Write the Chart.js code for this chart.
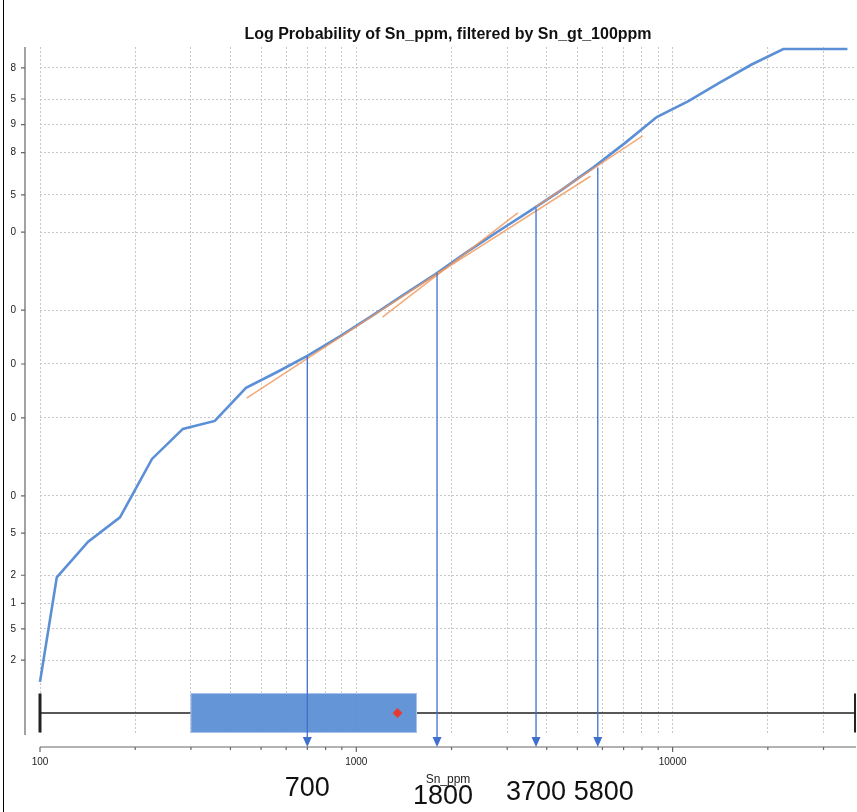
<!DOCTYPE html>
<html>
<head>
<meta charset="utf-8">
<script src="https://cdn.jsdelivr.net/npm/chart.js@4.4.1/dist/chart.umd.min.js"></script>
<style>
  html, body { margin: 0; padding: 0; background: #fff; }
  #frame { position: absolute; left: 3px; top: 0; width: 1px; height: 812px; background: #000; }
  #clip { position: absolute; left: 11px; top: 0; width: 846px; height: 812px; overflow: hidden; }
  #wrap { position: absolute; left: -11px; top: 0; width: 857px; height: 812px; }
</style>
</head>
<body>
<div id="frame"></div>
<div id="clip"><div id="wrap"><canvas id="chart" width="857" height="812"></canvas></div></div>
<script>
// cumulative curve, Sn_ppm vs cumulative percent
const snPpm = [100, 113, 142, 179, 226, 283, 357, 448, 562, 700, 890, 1120, 1410, 1780, 2240, 2820, 3550, 4470, 5620, 7080, 8910, 11220, 14130, 17780, 22390, 35700];
const cumPct = [0.1, 1.9, 4.2, 6.8, 17.8, 26.4, 29.0, 40.8, 46.9, 53.1, 60.7, 68.0, 74.9, 80.9, 86.2, 90.2, 93.2, 95.5, 97.2, 98.42, 99.18, 99.47, 99.69, 99.82, 99.89, 99.89];

// fitted population lines
const fitFrom = [450, 1210, 1800, 3700];
const fitTo = [1900, 3240, 5500, 8040];
const fitFromPct = [37.0, 67.6, 80.9, 93.7];
const fitToPct = [82.2, 92.9, 96.6, 98.67];

// thresholds picked off the curve
const thresholds = [700, 1800, 3700, 5800];
const thresholdPct = [53.1, 81.2, 93.5, 97.2];

// box plot stats
const boxLow = 100;
const boxQ1 = 300;
const boxQ3 = 1550;
const boxHigh = 38000;
const boxMean = 1350;

const yTickPct = [0.2, 0.5, 1, 2, 5, 10, 30, 50, 70, 90, 95, 98, 99, 99.5, 99.8];
const yMinPct = 0.0155;
const yMaxPct = 99.897;
const xMin = 100;
const xMax = 38000;

// inverse normal cdf (Acklam)
function probit(p) {
  const a = [-39.69683028665376, 220.9460984245205, -275.9285104469687, 138.3577518672690, -30.66479806614716, 2.506628277459239];
  const b = [-54.47609879822406, 161.5858368580409, -155.6989798598866, 66.80131188771972, -13.28068155288572];
  const c = [-0.007784894002430293, -0.3223964580411365, -2.400758277161838, -2.549732539343734, 4.374664141464968, 2.938163982698783];
  const d = [0.007784695709041462, 0.3224671290700398, 2.445134137142996, 3.754408661907416];
  const pl = 0.02425;
  if (p < pl) {
    const q = Math.sqrt(-2 * Math.log(p));
    return (((((c[0] * q + c[1]) * q + c[2]) * q + c[3]) * q + c[4]) * q + c[5]) / ((((d[0] * q + d[1]) * q + d[2]) * q + d[3]) * q + 1);
  }
  if (p > 1 - pl) {
    const q = Math.sqrt(-2 * Math.log(1 - p));
    return -(((((c[0] * q + c[1]) * q + c[2]) * q + c[3]) * q + c[4]) * q + c[5]) / ((((d[0] * q + d[1]) * q + d[2]) * q + d[3]) * q + 1);
  }
  const q = p - 0.5;
  const r = q * q;
  return (((((a[0] * r + a[1]) * r + a[2]) * r + a[3]) * r + a[4]) * r + a[5]) * q / (((((b[0] * r + b[1]) * r + b[2]) * r + b[3]) * r + b[4]) * r + 1);
}
const z = (pct) => probit(pct / 100);

function mantissa(v) {
  return v / Math.pow(10, Math.floor(Math.log10(v) + 1e-9));
}

Chart.defaults.font.family = "'Liberation Sans', Arial, sans-serif";

const BLUE = '#5b8fd6';
const ORANGE = 'rgba(240, 150, 90, 0.8)';
const ARROW = '#3f6fcf';

const offsetAxes = {
  id: 'offsetAxes',
  afterDraw(chart) {
    const { ctx, chartArea: a, scales: { x, y } } = chart;
    ctx.save();
    ctx.strokeStyle = '#666';
    ctx.lineWidth = 1.2;
    const sx = a.left - 15;
    ctx.beginPath();
    ctx.moveTo(sx, a.top);
    ctx.lineTo(sx, a.bottom);
    y.ticks.forEach((t) => {
      const py = y.getPixelForValue(t.value);
      ctx.moveTo(sx - 4, py);
      ctx.lineTo(sx, py);
    });
    ctx.stroke();
    const sy = a.bottom + 12;
    ctx.beginPath();
    ctx.moveTo(a.left, sy);
    ctx.lineTo(a.right, sy);
    x.ticks.forEach((t) => {
      const px = x.getPixelForValue(t.value);
      const major = Math.abs(mantissa(t.value) - 1) < 1e-6;
      ctx.moveTo(px, sy);
      ctx.lineTo(px, sy + (major ? 5 : 3));
    });
    ctx.stroke();
    ctx.restore();
  }
};

const boxPlot = {
  id: 'boxPlot',
  afterDatasetsDraw(chart) {
    const { ctx, chartArea: a, scales: { x } } = chart;
    const cy = a.bottom - 22;
    const h = 39;
    const px = (v) => x.getPixelForValue(v);
    ctx.save();
    ctx.strokeStyle = '#222';
    ctx.lineWidth = 1.5;
    ctx.beginPath();
    ctx.moveTo(px(boxLow), cy);
    ctx.lineTo(px(boxQ1), cy);
    ctx.moveTo(px(boxQ3), cy);
    ctx.lineTo(px(boxHigh), cy);
    ctx.stroke();
    ctx.lineWidth = 3;
    ctx.beginPath();
    ctx.moveTo(px(boxLow), cy - h / 2);
    ctx.lineTo(px(boxLow), cy + h / 2);
    ctx.stroke();
    ctx.lineWidth = 2;
    ctx.beginPath();
    ctx.moveTo(px(boxHigh) - 1, cy - h / 2);
    ctx.lineTo(px(boxHigh) - 1, cy + h / 2);
    ctx.stroke();
    ctx.fillStyle = 'rgba(88, 142, 212, 0.93)';
    ctx.fillRect(px(boxQ1), cy - h / 2, px(boxQ3) - px(boxQ1), h);
    ctx.strokeStyle = '#a9c4ea';
    ctx.lineWidth = 1;
    ctx.strokeRect(px(boxQ1), cy - h / 2, px(boxQ3) - px(boxQ1), h);
    const mx = px(boxMean);
    ctx.fillStyle = '#e53935';
    ctx.beginPath();
    ctx.moveTo(mx, cy - 5);
    ctx.lineTo(mx + 5, cy);
    ctx.lineTo(mx, cy + 5);
    ctx.lineTo(mx - 5, cy);
    ctx.closePath();
    ctx.fill();
    ctx.restore();
  }
};

const arrows = {
  id: 'arrows',
  afterDraw(chart) {
    const { ctx, chartArea: a, scales: { x, y } } = chart;
    const tip = a.bottom + 12;
    const labelDx = [0, 6, 0, 6];
    const labelY = [789, 797, 793, 793];
    ctx.save();
    thresholds.forEach((t, i) => {
      const px = x.getPixelForValue(t);
      const top = y.getPixelForValue(z(thresholdPct[i]));
      ctx.strokeStyle = ARROW;
      ctx.lineWidth = 1.3;
      ctx.beginPath();
      ctx.moveTo(px, top);
      ctx.lineTo(px, tip - 8);
      ctx.stroke();
      ctx.fillStyle = ARROW;
      ctx.beginPath();
      ctx.moveTo(px - 4.5, tip - 10);
      ctx.lineTo(px + 4.5, tip - 10);
      ctx.lineTo(px, tip);
      ctx.closePath();
      ctx.fill();
      ctx.fillStyle = '#111';
      ctx.font = "27px 'Liberation Sans Narrow', 'Liberation Sans', sans-serif";
      ctx.textAlign = 'center';
      ctx.textBaseline = 'middle';
      ctx.fillText(String(t), px + labelDx[i], labelY[i]);
    });
    ctx.restore();
  }
};

const fitDatasets = fitFrom.map((v, i) => ({
  data: [{ x: v, y: z(fitFromPct[i]) }, { x: fitTo[i], y: z(fitToPct[i]) }],
  borderColor: ORANGE,
  borderWidth: 1.6,
  pointRadius: 0
}));

new Chart(document.getElementById('chart').getContext('2d'), {
  type: 'line',
  data: {
    datasets: [
      ...fitDatasets,
      {
        label: 'Sn_ppm',
        data: snPpm.map((v, i) => ({ x: v, y: z(cumPct[i]) })),
        borderColor: BLUE,
        borderWidth: 2.6,
        pointRadius: 0,
        tension: 0,
        clip: false
      }
    ]
  },
  options: {
    responsive: false,
    animation: false,
    layout: { padding: { right: 1 } },
    plugins: {
      legend: { display: false },
      tooltip: { enabled: false },
      title: {
        display: true,
        text: 'Log Probability of Sn_ppm, filtered by Sn_gt_100ppm',
        fullSize: false,
        color: '#111',
        font: { size: 16, weight: 'bold' },
        padding: { top: 25, bottom: 2.8 }
      }
    },
    scales: {
      x: {
        type: 'logarithmic',
        min: xMin,
        max: xMax,
        afterFit(scale) { scale.height = 77; },
        afterBuildTicks(scale) {
          scale.ticks = scale.ticks.filter((t) => Math.abs(mantissa(t.value) - Math.round(mantissa(t.value))) < 1e-6);
        },
        grid: { color: '#c8c8c8', lineWidth: 1, drawTicks: false },
        border: { display: false, dash: [2, 2] },
        ticks: {
          padding: 21,
          color: '#222',
          font: { size: 10 },
          autoSkip: false,
          maxRotation: 0,
          callback(v) {
            return Math.abs(mantissa(v) - 1) < 1e-6 ? String(Math.round(v)) : '';
          }
        },
        title: {
          display: true,
          text: 'Sn_ppm',
          color: '#222',
          font: { size: 12 },
          padding: { top: 0, bottom: 25 }
        }
      },
      y: {
        type: 'linear',
        min: z(yMinPct),
        max: z(yMaxPct),
        afterFit(scale) { scale.width = 40; },
        afterBuildTicks(scale) {
          scale.ticks = yTickPct.map((p) => ({ value: z(p) }));
        },
        grid: { color: '#c8c8c8', lineWidth: 1, drawTicks: false },
        border: { display: false, dash: [2, 2] },
        ticks: {
          padding: 24,
          color: '#222',
          font: { size: 10 },
          autoSkip: false,
          callback(v, i) { return String(yTickPct[i]); }
        }
      }
    }
  },
  plugins: [boxPlot, offsetAxes, arrows]
});
</script>
</body>
</html>
